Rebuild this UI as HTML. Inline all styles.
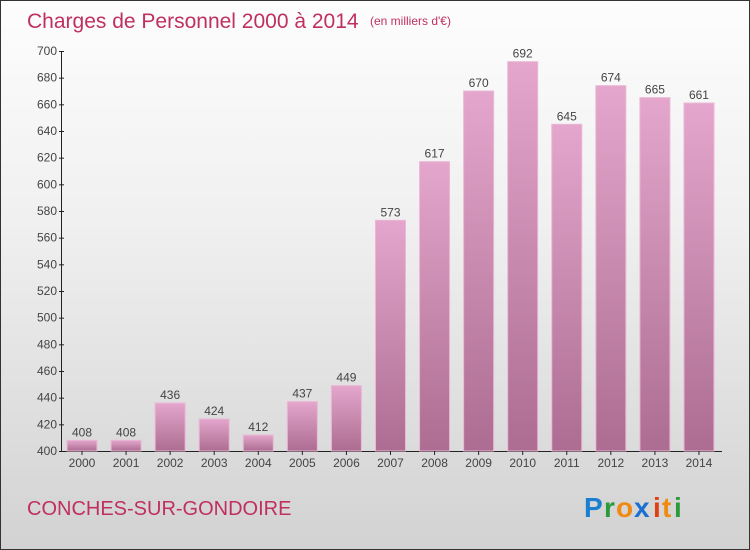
<!DOCTYPE html>
<html><head><meta charset="utf-8"><style>
body{margin:0}
#wrap{width:748px;height:548px;border:1px solid #333;background:linear-gradient(#fdfdfd,#f0f0f0 40%,#d2d2d2);position:relative;font-family:"Liberation Sans",sans-serif;overflow:hidden}
</style></head><body>
<div id="wrap">
<svg id="chart" width="748" height="548">
<defs><linearGradient id="bg" x1="0" y1="0" x2="0" y2="1"><stop offset="0" stop-color="#e4a6cc"/><stop offset="1" stop-color="#ad6d93"/></linearGradient></defs>
<text x="26" y="27" font-size="21" fill="#c0305f">Charges de Personnel 2000 à 2014</text>
<text x="369" y="24" font-size="12" fill="#c0305f">(en milliers d'€)</text>
<text x="26" y="514" font-size="20" fill="#c0305f">CONCHES-SUR-GONDOIRE</text>
<g font-size="28" font-weight="bold">
<text x="583" y="516" fill="#1a7fd0">P</text><text x="603" y="516" fill="#2a9a3a">r</text><text x="615" y="516" fill="#f08a10">o</text><text x="633" y="516" fill="#1a6fd0">x</text><text x="652" y="516" fill="#e04010">i</text><text x="661" y="516" fill="#f08a10">t</text><text x="673" y="516" fill="#2a9a3a">i</text>
</g>
<g id="plot"></g>
</svg>
</div>
<script>
const years=["2000","2001","2002","2003","2004","2005","2006","2007","2008","2009","2010","2011","2012","2013","2014"];
const values=[408,408,436,424,412,437,449,573,617,670,692,645,674,665,661];
const yTicks=[400,420,440,460,480,500,520,540,560,580,600,620,640,660,680,700];
const ns="http://www.w3.org/2000/svg";
const g=document.getElementById('plot');
const y=v=>450-(v-400)*400/300;
const x=i=>81+i*44.07;
function mk(t,a){const e=document.createElementNS(ns,t);for(const k in a)e.setAttribute(k,a[k]);g.appendChild(e);return e;}
let ax=mk('line',{x1:60.5,y1:50,x2:60.5,y2:450,stroke:'#222'});


let bx=mk('line',{x1:60,y1:450.5,x2:721,y2:450.5,stroke:'#222'});


yTicks.forEach(v=>{
 const l=mk('line',{x1:58,x2:63,y1:y(v)+.5,y2:y(v)+.5,stroke:'#222'});
 
 
 const t=mk('text',{x:56,y:y(v)+4,'text-anchor':'end','font-size':12,fill:'#444'});
 t.textContent=v;
 
 
});
years.forEach((yr,i)=>{
 const v=values[i];
 const r=mk('rect',{x:x(i)-15,y:y(v),width:30,height:450-y(v),fill:'url(#bg)',stroke:'#eab8d4','stroke-width':1});
 
 
 const vl=mk('text',{x:x(i),y:y(v)-4,'text-anchor':'middle','font-size':12,fill:'#444'});
 vl.textContent=v;
 
 
 const tk=mk('line',{x1:x(i),x2:x(i),y1:450,y2:454,stroke:'#222'});
 
 
 const xl=mk('text',{x:x(i),y:466,'text-anchor':'middle','font-size':12,fill:'#444'});
 xl.textContent=yr;
 
 
});
</script>
</body></html>
